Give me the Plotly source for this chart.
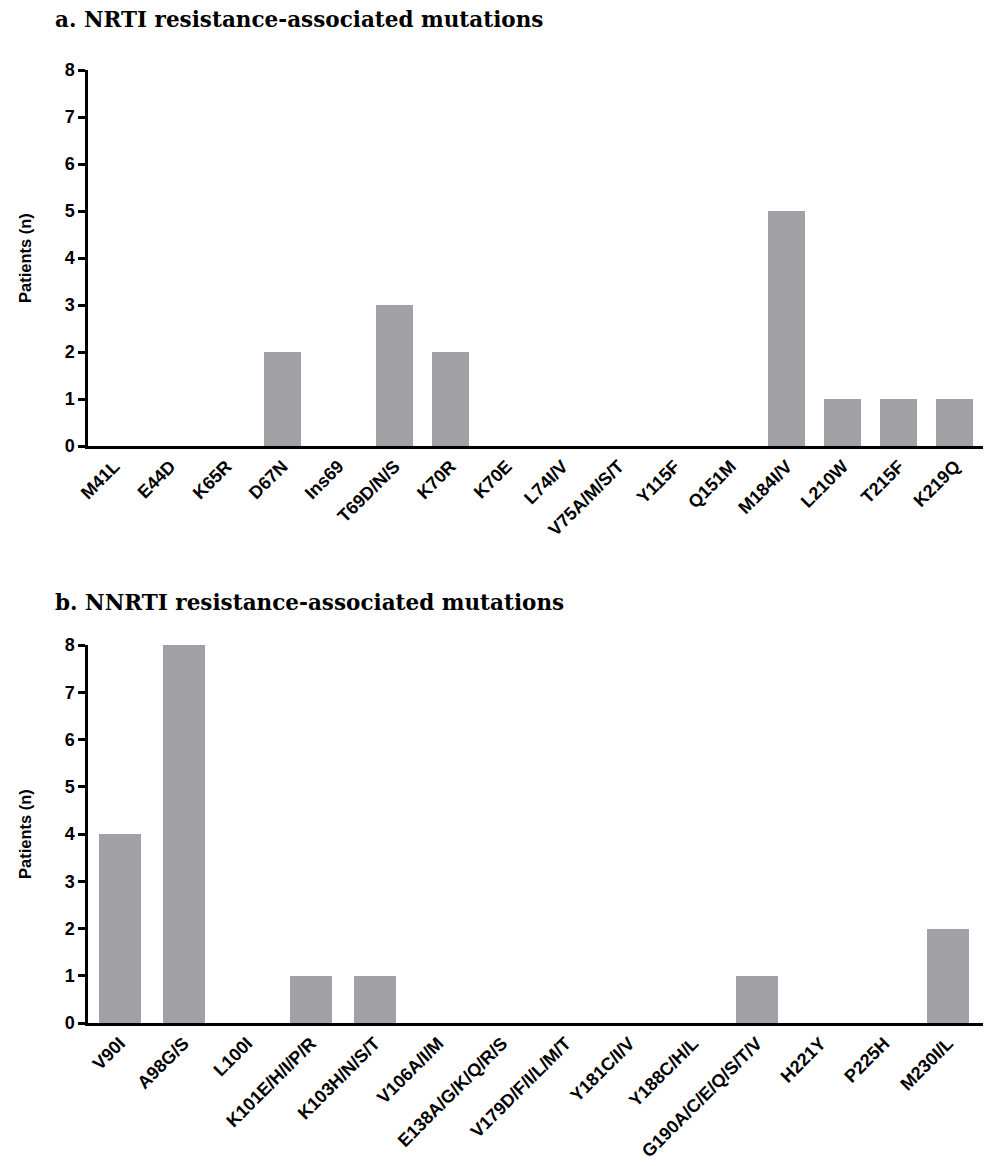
import plotly.graph_objects as go

nrti_labels = ["M41L", "E44D", "K65R", "D67N", "Ins69", "T69D/N/S", "K70R", "K70E",
               "L74I/V", "V75A/M/S/T", "Y115F", "Q151M", "M184I/V", "L210W", "T215F", "K219Q"]
nrti_values = [0, 0, 0, 2, 0, 3, 2, 0, 0, 0, 0, 0, 5, 1, 1, 1]

nnrti_labels = ["V90I", "A98G/S", "L100I", "K101E/H/I/P/R", "K103H/N/S/T", "V106A/I/M",
                "E138A/G/K/Q/R/S", "V179D/F/I/L/M/T", "Y181C/I/V", "Y188C/H/L",
                "G190A/C/E/Q/S/T/V", "H221Y", "P225H", "M230I/L"]
nnrti_values = [4, 8, 0, 1, 1, 0, 0, 0, 0, 0, 1, 0, 0, 2]

y_ticks = [0, 1, 2, 3, 4, 5, 6, 7, 8]

BAR = "#a2a1a6"
W, H = 984, 1166

fig = go.Figure()
fig.add_trace(go.Bar(x=list(range(len(nrti_labels))), y=nrti_values, marker_color=BAR,
                     marker_line_width=0, width=0.66, xaxis="x", yaxis="y", showlegend=False))
fig.add_trace(go.Bar(x=list(range(len(nnrti_labels))), y=nnrti_values, marker_color=BAR,
                     marker_line_width=0, width=0.66, xaxis="x2", yaxis="y2", showlegend=False))

SANS = "Liberation Sans, Arial, sans-serif"
xtickfont = dict(family=SANS, size=18, color="black", weight="bold")
ytickfont = dict(family=SANS, size=18, color="black", weight="bold")
ytitlefont = dict(family=SANS, size=16.5, color="black", weight="bold")
xdom = [88 / W, 983 / W]

common_x = dict(showline=True, linecolor="black", linewidth=2.5, ticks="", tickangle=-45,
                tickfont=xtickfont, showgrid=False, zeroline=False, tickmode="array",
                automargin=False)
common_y = dict(showline=True, linecolor="black", linewidth=2.5, ticks="outside", ticklen=7,
                tickwidth=2.5, tickcolor="black", tickfont=ytickfont, showgrid=False,
                zeroline=False, range=[0, 8], tickvals=y_ticks, automargin=False)

ydom_a = [1 - 446 / H, 1 - 70 / H]
ydom_b = [1 - 1023 / H, 1 - 645 / H]

fig.update_layout(
    width=W, height=H, margin=dict(l=0, r=0, t=0, b=0),
    plot_bgcolor="white", paper_bgcolor="white", bargap=0,
    xaxis=dict(domain=xdom, anchor="y", range=[-0.47, 15.5],
               tickvals=list(range(len(nrti_labels))), ticktext=nrti_labels, **common_x),
    yaxis=dict(domain=ydom_a, anchor="x", **common_y),
    xaxis2=dict(domain=xdom, anchor="y2", range=[-0.5, 13.55],
                tickvals=list(range(len(nnrti_labels))), ticktext=nnrti_labels, **common_x),
    yaxis2=dict(domain=ydom_b, anchor="x2", **common_y),
)

for dom in (ydom_a, ydom_b):
    fig.add_annotation(text="Patients (n)", xref="paper", yref="paper", x=25 / W,
                       y=(dom[0] + dom[1]) / 2, textangle=-90, showarrow=False,
                       xanchor="center", yanchor="middle", font=ytitlefont)

title_font = dict(family="DejaVu Serif, serif", size=21.5, color="black", weight="bold")
fig.add_annotation(text="a. NRTI resistance-associated mutations", xref="paper", yref="paper",
                   x=53 / W, y=1 - 20 / H, xanchor="left", yanchor="middle", showarrow=False,
                   font=title_font)
fig.add_annotation(text="b. NNRTI resistance-associated mutations", xref="paper", yref="paper",
                   x=53 / W, y=1 - 602 / H, xanchor="left", yanchor="middle", showarrow=False,
                   font=title_font)

fig.write_html("out.html", config={"displayModeBar": False},
               post_script="document.body.style.margin='0';")
